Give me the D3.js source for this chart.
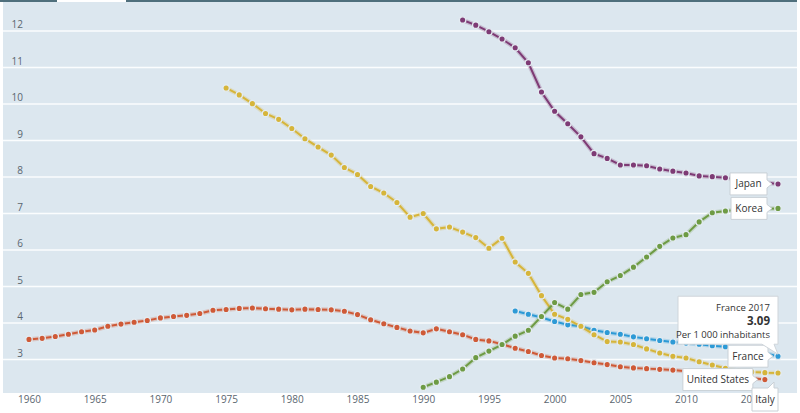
<!DOCTYPE html>
<html><head><meta charset="utf-8">
<script src="https://cdn.jsdelivr.net/npm/d3@7"></script>
<style>
html,body{margin:0;padding:0;background:#fff;}
svg{display:block;font-family:"Open Sans","Noto Sans",sans-serif;}
</style></head><body>
<svg id="c" width="800" height="413"></svg>
<script>
const xTicks = [1960,1965,1970,1975,1980,1985,1990,1995,2000,2005,2010,2015];
const yTicks = [3,4,5,6,7,8,9,10,11,12];

const usStart = 1960;
const usValues = [3.55,3.58,3.63,3.69,3.76,3.81,3.91,3.97,4.02,4.07,4.14,4.18,4.21,4.26,4.35,4.37,4.40,4.41,4.39,4.38,4.36,4.38,4.37,4.36,4.32,4.23,4.09,3.98,3.88,3.78,3.73,3.84,3.76,3.68,3.55,3.51,3.42,3.31,3.22,3.11,3.04,3.02,2.97,2.91,2.86,2.80,2.77,2.75,2.73,2.71,2.68,2.64,2.60,2.56,2.53,2.49,2.45];
const italyStart = 1975;
const italyValues = [10.44,10.25,10.01,9.74,9.58,9.33,9.05,8.82,8.60,8.26,8.07,7.74,7.56,7.30,6.90,7.00,6.58,6.63,6.49,6.34,6.05,6.32,5.67,5.36,4.75,4.24,4.10,3.91,3.68,3.49,3.48,3.41,3.29,3.18,3.09,3.04,2.94,2.85,2.76,2.70,2.66,2.64,2.63];
const franceStart = 1997;
const franceValues = [4.33,4.24,4.15,4.04,3.95,3.91,3.80,3.74,3.69,3.62,3.57,3.52,3.48,3.45,3.42,3.38,3.35,3.30,3.24,3.17,3.09];
const koreaStart = 1990;
const koreaValues = [2.24,2.38,2.53,2.74,3.05,3.23,3.41,3.64,3.80,4.18,4.56,4.38,4.78,4.84,5.13,5.30,5.53,5.81,6.10,6.33,6.42,6.77,7.02,7.07,7.10,7.12,7.13,7.14];
const japanStart = 1993;
const japanValues = [12.30,12.16,11.98,11.78,11.54,11.13,10.33,9.80,9.46,9.10,8.64,8.51,8.33,8.33,8.31,8.22,8.16,8.11,8.03,8.01,7.98,7.93,7.88,7.85,7.81];

const series = [
  {name:"United States", start:usStart, values:usValues, color:"#cf5a37"},
  {name:"France", start:franceStart, values:franceValues, color:"#2d9ad6"},
  {name:"Italy", start:italyStart, values:italyValues, color:"#d6b53a"},
  {name:"Korea", start:koreaStart, values:koreaValues, color:"#6e9b44"},
  {name:"Japan", start:japanStart, values:japanValues, color:"#7e3b75"}
];

const svg = d3.select("#c");
const x = d3.scaleLinear().domain([1960, 2017]).range([29, 778]);
const y = d3.scaleLinear().domain([3, 12]).range([359.5, 31]);

svg.append("rect").attr("x",0).attr("y",0).attr("width",57).attr("height",2).attr("fill","#4f6f7c");
svg.append("rect").attr("x",126).attr("y",0).attr("width",671).attr("height",2).attr("fill","#4f6f7c");
svg.append("rect").attr("x",3).attr("y",2).attr("width",794).attr("height",391).attr("fill","#dce7ef");

svg.append("g").selectAll("line").data(yTicks).join("line")
  .attr("x1",3).attr("x2",797).attr("y1",d=>y(d)).attr("y2",d=>y(d))
  .attr("stroke","#fbfdfe").attr("stroke-width",1.5);
svg.append("g").selectAll("text").data(yTicks).join("text")
  .attr("x",23).attr("y",d=>y(d)-3).attr("text-anchor","end")
  .attr("font-size",10).attr("fill","#5a6670").text(d=>d);

const xAxis = d3.axisBottom(x).tickValues(xTicks).tickFormat(d3.format("d")).tickSize(0).tickPadding(0);
const gx = svg.append("g").attr("transform","translate(0,396)").call(xAxis);
gx.select(".domain").remove();
gx.selectAll("text").attr("font-size",10).attr("fill","#5a6670").attr("dy","0.71em")
  .attr("font-family","'Open Sans','Noto Sans',sans-serif");

const line = d3.line().x(d=>x(d.year)).y(d=>y(d.value));
series.forEach(s=>{
  s.data = s.values.map((v,i)=>({year:s.start+i, value:v}));
  s.last = s.data[s.data.length-1];
});
series.forEach(s=>{
  const g = svg.append("g");
  g.append("path").datum(s.data).attr("d",line).attr("fill","none")
    .attr("stroke",s.color).attr("stroke-opacity",0.25).attr("stroke-width",4.5);
  g.append("path").datum(s.data).attr("d",line).attr("fill","none")
    .attr("stroke",s.color).attr("stroke-width",2);
  g.selectAll("circle").data(s.data).join("circle")
    .attr("cx",d=>x(d.year)).attr("cy",d=>y(d.value)).attr("r",3.2)
    .attr("fill",s.color).attr("stroke","#e4ecf2").attr("stroke-width",1.3);
});

function calloutRight(name, px, py, w, dx){
  const g = svg.append("g");
  const right = px - dx, left = right - w, top = py - 11, bot = py + 11;
  g.append("path").attr("d",
    `M${left},${top}H${right}V${py-4}L${right+5},${py}L${right},${py+4}V${bot}H${left}Z`)
    .attr("fill","#fff").attr("stroke","#c9d0d6").attr("stroke-width",1);
  g.append("text").attr("x",(left+right)/2).attr("y",py+3.5).attr("text-anchor","middle")
    .attr("font-size",10).attr("fill","#333").text(name);
}
const byName = n => series.find(s=>s.name===n);
[["Japan",37,11],["Korea",36,11],["France",40,10]].forEach(([n,w,dx])=>{
  const s = byName(n);
  calloutRight(n, x(s.last.year), y(s.last.value), w, dx);
});
{
  const s = byName("United States");
  calloutRight("United States", x(s.last.year), y(s.last.value), 70, 12);
}
{
  const s = byName("Italy");
  const px = x(s.last.year), py = y(s.last.value);
  const g = svg.append("g");
  const left = px-26, right = px, top = py+15, bot = py+38;
  g.append("path").attr("d",`M${left},${top}H${right-10}L${right-4},${top-6}L${right-4},${top}H${right}V${bot}H${left}Z`)
    .attr("fill","#fff").attr("stroke","#c9d0d6");
  g.append("text").attr("x",(left+right)/2).attr("y",(top+bot)/2+3.5).attr("text-anchor","middle")
    .attr("font-size",10).attr("fill","#333").text("Italy");
}

{
  const s = byName("France");
  const px = x(s.last.year), py = y(s.last.value);
  const g = svg.append("g");
  const right = px, left = px-100, top = py-60, bot = py-12;
  g.append("path").attr("d",`M${left},${top}H${right}V${bot}H${right-4}L${px},${py-2}L${right-16},${bot}H${left}Z`)
    .attr("fill","#fff").attr("stroke","#cfd5da");
  g.append("text").attr("x",right-8).attr("y",top+15).attr("text-anchor","end")
    .attr("font-size",9.5).attr("fill","#333").text(`France ${s.last.year}`);
  g.append("text").attr("x",right-8).attr("y",top+29).attr("text-anchor","end")
    .attr("font-size",11.5).attr("font-weight","bold").attr("fill","#333").text(d3.format(".2f")(s.last.value));
  g.append("text").attr("x",right-8).attr("y",top+42).attr("text-anchor","end")
    .attr("font-size",9.5).attr("fill","#333").text("Per 1 000 inhabitants");
}
</script>
</body></html>
